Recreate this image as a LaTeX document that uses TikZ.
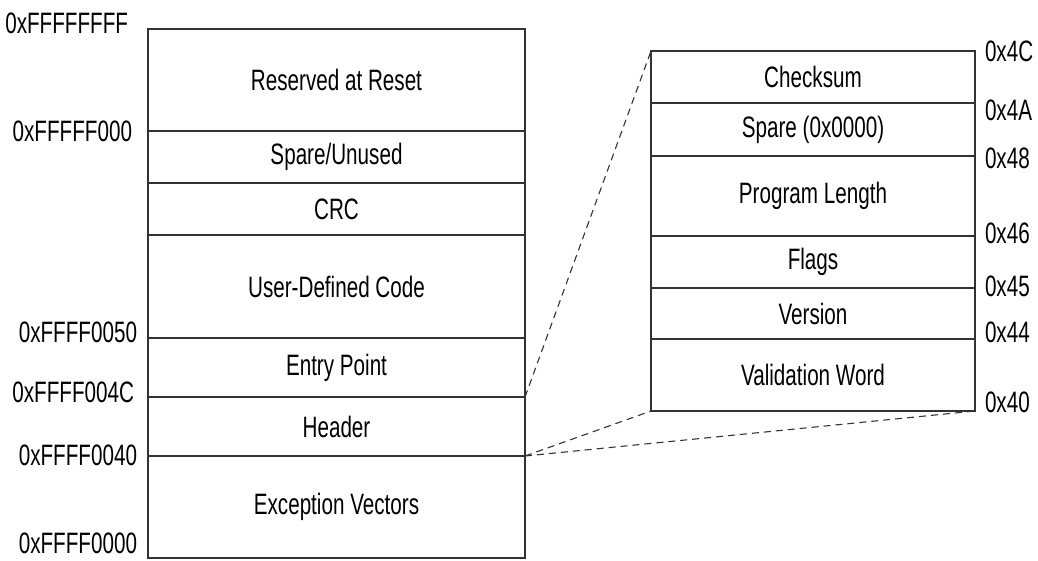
\documentclass[tikz,border=0pt]{standalone}
\usepackage{fontspec}
\setmainfont{Liberation Sans}[FakeStretch=0.70]
\usepackage{tikz}
\usetikzlibrary{positioning}

\tikzset{
  cell/.style={draw=black!80, line width=1.2pt, inner sep=0pt, outer sep=0pt, minimum width=#1, text=black},
  addr/.style={inner sep=0pt, outer sep=0pt, text=black},
  zoomline/.style={black!80, line width=1.1pt, dash pattern=on 7pt off 5pt},
}

\begin{document}
\begin{tikzpicture}[x=1pt, y=1pt, font=\fontsize{29.5}{34}\selectfont, node distance=0pt]
            \useasboundingbox (0,0) rectangle (1038,-560);
            % boot image layout
            \node[cell=377pt, minimum height=102pt, anchor=north west] (rsv) at (148,-29) {Reserved at Reset};
            \node[cell=377pt, minimum height=52pt, below=of rsv] (spare) {Spare/Unused};
            \node[cell=377pt, minimum height=52pt, below=of spare] (crc) {CRC};
            \node[cell=377pt, minimum height=103pt, below=of crc] (user) {User-Defined Code};
            \node[cell=377pt, minimum height=59pt, below=of user] (entry) {Entry Point};
            \node[cell=377pt, minimum height=59pt, below=of entry] (hdr) {Header};
            \node[cell=377pt, minimum height=102pt, below=of hdr] (exc) {Exception Vectors};

            \node[addr, anchor=east] (aTop) at (128,-23) {0xFFFFFFFF};
            \node[addr, anchor=east] (aRsv) at (132,-131) {0xFFFFF000};
            \node[addr, anchor=east] (aEntry) at (137,-332) {0xFFFF0050};
            \node[addr, anchor=east] (aHdr) at (134,-392) {0xFFFF004C};
            \node[addr, anchor=east] (aExc) at (137,-455) {0xFFFF0040};
            \node[addr, anchor=east] (aBot) at (137,-543) {0xFFFF0000};

            % header detail
            \node[cell=324pt, minimum height=52pt, anchor=north west] (chk) at (651,-51) {Checksum};
            \node[cell=324pt, minimum height=53pt, below=of chk] (spr) {Spare (0x0000)};
            \node[cell=324pt, minimum height=80pt, below=of spr] (plen) {Program Length};
            \node[cell=324pt, minimum height=52pt, below=of plen] (flags) {Flags};
            \node[cell=324pt, minimum height=51pt, below=of flags] (ver) {Version};
            \node[cell=324pt, minimum height=72pt, below=of ver] (valid) {Validation Word};

            \node[addr, anchor=west] (o4C) at (985,-51) {0x4C};
            \node[addr, anchor=west] (o4A) at (985,-110) {0x4A};
            \node[addr, anchor=west] (o48) at (985,-158) {0x48};
            \node[addr, anchor=west] (o46) at (985,-233) {0x46};
            \node[addr, anchor=west] (o45) at (985,-286) {0x45};
            \node[addr, anchor=west] (o44) at (985,-332) {0x44};
            \node[addr, anchor=west] (o40) at (985,-402) {0x40};

            \draw[zoomline] (hdr.north east) -- (chk.north west);
            \draw[zoomline] (hdr.south east) -- (valid.south west);
            \draw[zoomline] (hdr.south east) -- (valid.south east);
        \end{tikzpicture}
\end{document}
